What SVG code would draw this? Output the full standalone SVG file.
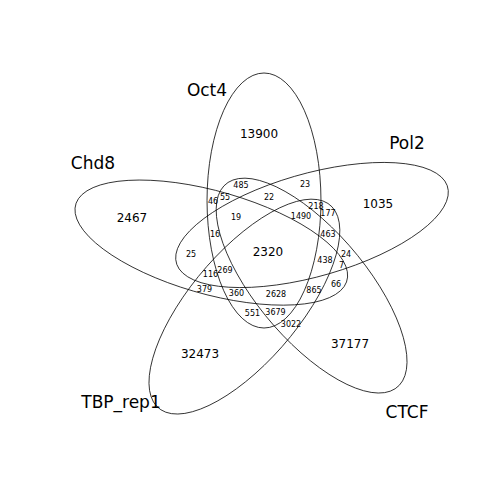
<svg xmlns="http://www.w3.org/2000/svg" width="500" height="500" viewBox="0 0 500 500">
  <style>
    .set { fill: none; stroke: #000; stroke-width: 0.8; }
    .lbl { font-family: "DejaVu Sans", "Liberation Sans", sans-serif; font-size: 17px; text-anchor: middle; fill: #000; }
    .big { font-family: "DejaVu Sans", "Liberation Sans", sans-serif; font-size: 12px; text-anchor: middle; fill: #000; }
    .sm { font-family: "DejaVu Sans", "Liberation Sans", sans-serif; font-size: 8px; text-anchor: middle; fill: #000; }
  </style>
  <rect width="500" height="500" fill="#fff"/>

  <!-- five set outlines: identical ellipses stepped by 72 degrees, x stretched slightly -->
  <g id="connectors">
    <g id="set-oct4" transform="translate(264 200.5) scale(1.115 1) rotate(90)">
      <ellipse class="set" rx="127.5" ry="51.1" vector-effect="non-scaling-stroke"/>
    </g>
    <g id="set-pol2" transform="translate(312 225) scale(1.115 1) rotate(-18)">
      <ellipse class="set" rx="127.5" ry="51.1" vector-effect="non-scaling-stroke"/>
    </g>
    <g id="set-ctcf" transform="translate(311.6 285.6) scale(1.115 1) rotate(54)">
      <ellipse class="set" rx="127.5" ry="51.1" vector-effect="non-scaling-stroke"/>
    </g>
    <g id="set-tbp" transform="translate(244.4 306.6) scale(1.115 1) rotate(126)">
      <ellipse class="set" rx="127.5" ry="51.1" vector-effect="non-scaling-stroke"/>
    </g>
    <g id="set-chd8" transform="translate(211.3 242.6) scale(1.115 1) rotate(18)">
      <ellipse class="set" rx="127.5" ry="51.1" vector-effect="non-scaling-stroke"/>
    </g>
  </g>

  <!-- set names -->
  <g id="label-oct4"><text class="lbl" x="207" y="96">Oct4</text></g>
  <g id="label-pol2"><text class="lbl" x="407" y="149">Pol2</text></g>
  <g id="label-chd8"><text class="lbl" x="93" y="169">Chd8</text></g>
  <g id="label-tbp"><text class="lbl" x="121" y="408">TBP_rep1</text></g>
  <g id="label-ctcf"><text class="lbl" x="407" y="418">CTCF</text></g>

  <!-- region counts -->
  <g id="counts">
    <text class="big" x="259" y="138.3">13900</text>
    <text class="big" x="132" y="222.3">2467</text>
    <text class="big" x="378" y="208.3">1035</text>
    <text class="big" x="200" y="358.3">32473</text>
    <text class="big" x="350" y="348.3">37177</text>
    <text class="big" x="268" y="256.3">2320</text>

    <text class="sm" x="241" y="188">485</text>
    <text class="sm" x="305" y="187.3">23</text>
    <text class="sm" x="213" y="203.9">46</text>
    <text class="sm" x="225" y="200.2">55</text>
    <text class="sm" x="269" y="199.9">22</text>
    <text class="sm" x="316" y="208.9">218</text>
    <text class="sm" x="328" y="216.2">177</text>
    <text class="sm" x="236" y="219.9">19</text>
    <text class="sm" x="301" y="218.9">1490</text>
    <text class="sm" x="215" y="237.2">16</text>
    <text class="sm" x="328" y="236.9">463</text>
    <text class="sm" x="191" y="256.9">25</text>
    <text class="sm" x="325" y="262.9">438</text>
    <text class="sm" x="346" y="256.9">24</text>
    <text class="sm" x="341.5" y="267.9">7</text>
    <text class="sm" x="225" y="272.9">269</text>
    <text class="sm" x="210.5" y="277.2">116</text>
    <text class="sm" x="336" y="286.9">66</text>
    <text class="sm" x="204.5" y="291.9">379</text>
    <text class="sm" x="236.5" y="295.9">360</text>
    <text class="sm" x="276" y="297.2">2628</text>
    <text class="sm" x="314" y="292.9">865</text>
    <text class="sm" x="252.5" y="316.2">551</text>
    <text class="sm" x="275.5" y="315.2">3679</text>
    <text class="sm" x="291" y="326.9">3022</text>
  </g>
</svg>
